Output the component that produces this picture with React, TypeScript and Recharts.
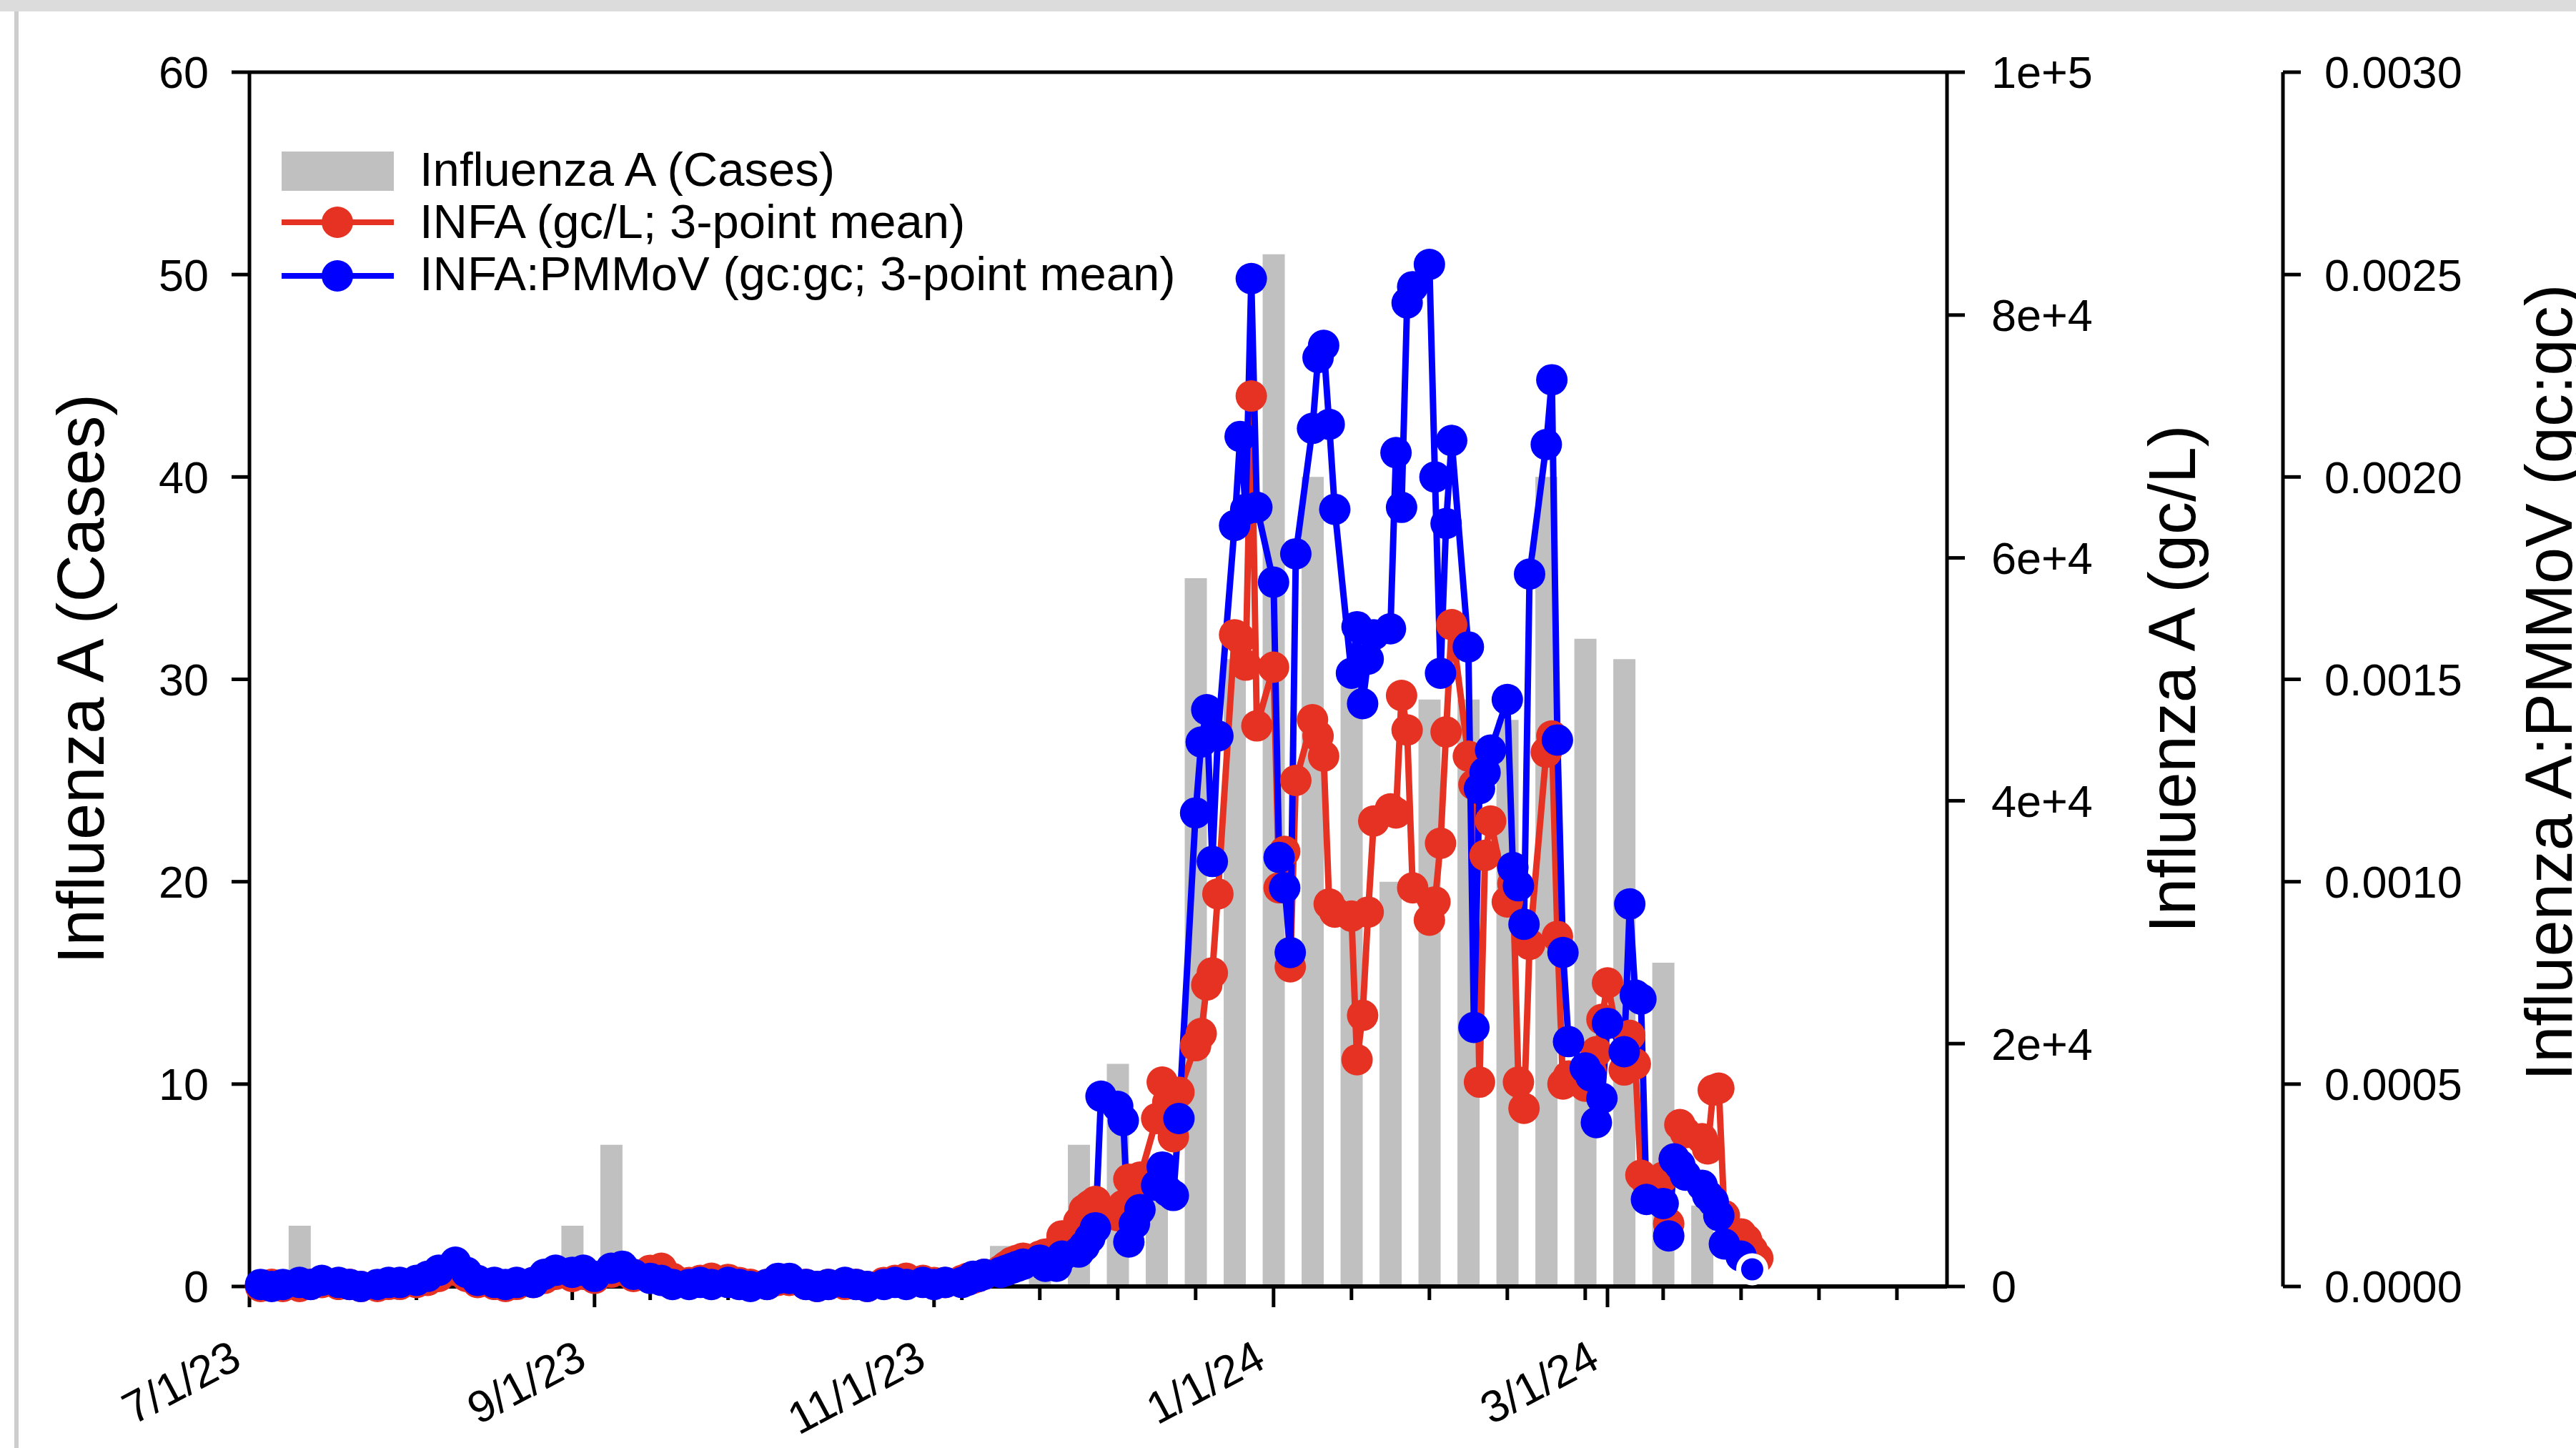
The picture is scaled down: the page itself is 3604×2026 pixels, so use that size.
import React from 'react';
import { ComposedChart, LineChart, Bar, Line, XAxis, YAxis, ReferenceLine } from 'recharts';

const FONT = '"Liberation Sans", Arial, Helvetica, sans-serif';
const W = 3604;
const H = 2026;
const PLOT_LEFT = 349;
const PLOT_RIGHT = 2724;
const PLOT_TOP = 101;
const PLOT_BOTTOM = 1800;
const GCL_AXIS_W = 470;
const RATIO_AXIS_W = W - PLOT_RIGHT - GCL_AXIS_W;

const RED = '#E53222';
const BLUE = '#0000FF';
const GRAY = '#C0C0C0';

// x values are days since 2023-07-01
const xDomain = [0, 305];
const majorTickDays = [0, 62, 123, 184, 244];
const majorTickLabels = ['7/1/23', '9/1/23', '11/1/23', '1/1/24', '3/1/24'];
const minorTickDays = [2, 16, 30, 44, 58, 72, 86, 100, 114, 128, 142, 156, 170, 198, 212, 226, 240, 254, 268, 282, 296];

const casesTicks = [0, 10, 20, 30, 40, 50, 60];
const gclTicks = [0, 20000, 40000, 60000, 80000, 100000];
const ratioTicks = [0, 0.0005, 0.001, 0.0015, 0.002, 0.0025, 0.003];

// weekly reported cases
const caseDays = [9, 16, 23, 30, 37, 44, 51, 58, 65, 72, 79, 86, 93, 100, 107, 114, 121, 128, 135, 142, 149, 156, 163, 170, 177, 184, 191, 198, 205, 212, 219, 226, 233, 240, 247, 254, 261];
const caseCounts = [3, 0, 0, 0, 0, 0, 0, 3, 7, 0, 0, 0, 0, 0, 0, 0, 0, 0, 2, 1, 7, 11, 5, 35, 31, 51, 40, 30, 20, 29, 29, 28, 40, 32, 31, 16, 4];

// wastewater sampling days
const sampleDays = [
  2, 4, 6, 9, 11, 13, 16, 18, 20, 23, 25, 27, 30, 32, 34, 37, 39, 41, 44, 46, 48, 51, 53, 55, 58, 60, 62, 65, 67, 69,
  72, 74, 76, 79, 81, 83, 86, 88, 90, 93, 95, 97, 100, 102, 104, 107, 109, 111, 114, 116, 118, 121, 123, 125,
  128, 129, 130, 131, 132, 135, 136, 137, 138, 139, 142, 143, 144, 145, 146, 149, 150, 151, 152, 153,
  156, 157, 158, 159, 160, 163, 164, 165, 166, 167, 170, 171, 172, 173, 174, 177, 178, 179, 180, 181,
  184, 185, 186, 187, 188, 191, 192, 193, 194, 195, 198, 199, 200, 201, 202, 205, 206, 207, 208, 209,
  212, 213, 214, 215, 216, 219, 220, 221, 222, 223, 226, 227, 228, 229, 230, 233, 234, 235, 236, 237,
  240, 241, 242, 243, 244, 247, 248, 249, 250, 251, 254, 255, 256, 257, 258, 261, 262, 263, 264, 265,
  268, 269, 270, 271,
];

// INFA gc/L (3-point mean)
const infaGcL = [
  0, 170, 0, 0, 170, 330, 170, 170, 0, 0, 170, 170, 330, 500, 830, 1330, 830, 330, 170, 0, 170, 330, 670, 1000, 830, 1000, 670, 1170, 1330, 830,
  1330, 1500, 670, 330, 500, 670, 580, 330, 170, 170, 500, 500, 170, 0, 170, 170, 170, 0, 330, 500, 670, 500, 330, 330,
  500, 670, 670, 830, 1000, 1330, 1670, 2000, 2170, 2330, 2500, 2670, 2500, 3000, 4170, 5330, 6330, 6670, 7000, 6330,
  5830, 6670, 8830, 8330, 9000, 13830, 16830, 15170, 12330, 16000, 19830, 20830, 24830, 25830, 32330, 53670, 53330, 51170, 73330, 46170,
  51000, 32830, 35830, 26330, 41670, 46670, 45330, 43670, 31500, 30830, 30500, 18670, 22330, 30830, 38330, 39330, 39000, 48670, 45830, 32830,
  30170, 31670, 36500, 45670, 54500, 43670, 41330, 16830, 35500, 38330, 31670, 33170, 16830, 14670, 28170, 44000, 45330, 28830, 16670, 17330,
  16500, 17830, 19330, 22000, 25000, 17830, 20670, 18330, 9170, 8670, 9000, 5170, 10500, 13330, 12670, 12170, 11330, 16170, 16330, 5830,
  4330, 3830, 3000, 2330,
];

// INFA:PMMoV gc:gc (3-point mean)
const infaPmmov: (number | null)[] = [
  0.000005, 0, 0.000005, 0.00001, 0.000005, 0.000015, 0.00001, 0.000005, 0, 0.000005, 0.00001, 0.00001, 0.000015, 0.000025, 0.00004,
  0.00006, 0.000035, 0.000015, 0.00001, 0.000005, 0.00001, 0.00001, 0.00003, 0.00004, 0.000035, 0.00004, 0.000025, 0.000045, 0.00005, 0.00003,
  0.00002, 0.000015, 0.000005, 0.000005, 0.00001, 0.000005, 0.00001, 0.000005, 0, 0.000005, 0.00002, 0.00002, 0.000005, 0, 0.000005,
  0.00001, 0.000005, 0, 0.000005, 0.00001, 0.000005, 0.00001, 0.000005, 0.00001,
  0.00001, 0.000015, 0.000025, 0.000025, 0.00003, 0.000035, 0.00004, 0.000045, 0.00005, 0.000055, 0.000065, 0.00005, 0.000053, 0.00005, 0.000075,
  0.000085, 0.0001, 0.00012, 0.000145, 0.00047, 0.000445, 0.00041, 0.00011, 0.000155, 0.00019, 0.00025, 0.000295, 0.000235, 0.000225, 0.000415,
  0.00117, 0.001345, 0.001425, 0.00105, 0.00136, 0.00188, 0.0021, 0.00192, 0.00249, 0.001925, 0.00174, 0.00106, 0.000985, 0.000825, 0.00181,
  0.00212, 0.002295, 0.002325, 0.00213, 0.00192, 0.001515, 0.00163, 0.00144, 0.00155, 0.00161, 0.001625, 0.00206, 0.001925, 0.00243, 0.00247,
  0.002525, 0.002, 0.001515, 0.001885, 0.00209, 0.00158, 0.00064, 0.00123, 0.00127, 0.001325, 0.00145, 0.001035, 0.00099, 0.000895, 0.00176,
  0.00208, 0.00224, 0.00135, 0.000825, 0.000605, 0.00054, 0.00052, 0.000405, 0.000465, 0.00065, 0.00058, 0.000945, 0.00072, 0.00071, 0.000215,
  0.000205, 0.000125, 0.000315, 0.0003, 0.000275, 0.00025, 0.000225, 0.00021, 0.000175, 0.000105, 0.000075, null, 0.0000425, null,
];

const legendLabels = ['Influenza A (Cases)', 'INFA (gc/L; 3-point mean)', 'INFA:PMMoV (gc:gc; 3-point mean)'];
const axisTitles = ['Influenza A (Cases)', 'Influenza A (gc/L)', 'Influenza A:PMMoV (gc:gc)'];

const caseRows = caseDays.map((d, i) => ({ day: d, cases: caseCounts[i] }));
const sampleRows = sampleDays.map((d, i) => ({ day: d, red: infaGcL[i], blue: infaPmmov[i] }));
const lastBlueIndex = (() => {
  let idx = -1;
  infaPmmov.forEach((v, i) => { if (v != null) idx = i; });
  return idx;
})();

const allXTicks = [...majorTickDays, ...minorTickDays].sort((a, b) => a - b);

const fmtSci = (v: number) => {
  if (v === 0) return '0';
  const e = Math.floor(Math.log10(v) + 1e-9);
  const m = Math.round(v / Math.pow(10, e));
  return `${m}e+${e}`;
};

const tickStyle = { fontSize: 63, fill: '#000', fontFamily: FONT };
const axisStroke = { stroke: '#000', strokeWidth: 5 };

const XTick = (props: any) => {
  const { x, y, payload } = props;
  const idx = majorTickDays.indexOf(payload.value);
  const major = idx >= 0;
  const tx = x - 8;
  const ty = y + 112;
  return (
    <g>
      <line x1={x} x2={x} y1={y} y2={y + (major ? 29 : 19)} stroke="#000" strokeWidth={5} />
      {major && (
        <text x={tx} y={ty} textAnchor="end" fontSize={63} fontFamily={FONT} fill="#000" transform={`rotate(-28 ${tx} ${ty})`}>
          {majorTickLabels[idx]}
        </text>
      )}
    </g>
  );
};

const makeDot = (color: string, lastIdx: number) => (props: any) => {
  const { cx, cy, index, value } = props;
  if (cx == null || cy == null || value == null || Number.isNaN(cy)) return <g key={`e-${index}`} />;
  if (index === lastIdx) {
    return <circle key={`d-${index}`} cx={cx} cy={cy} r={19} fill={color} stroke="#fff" strokeWidth={7} />;
  }
  return <circle key={`d-${index}`} cx={cx} cy={cy} r={22} fill={color} stroke="none" />;
};

const redDot = makeDot(RED, -1);
const blueDot = makeDot(BLUE, lastBlueIndex);

export default function App() {
  return (
    <div style={{ position: 'relative', width: W, height: H, background: '#fff', overflow: 'hidden' }}>
      <style>{'html,body{margin:0;padding:0;overflow:hidden;background:#fff}'}</style>
      <div style={{ position: 'absolute', left: 0, top: 0 }}>
        <ComposedChart width={W} height={H} data={caseRows} margin={{ top: PLOT_TOP, right: 0, bottom: 0, left: 0 }}>
          <XAxis
            type="number"
            dataKey="day"
            domain={xDomain}
            ticks={allXTicks}
            interval={0}
            tick={<XTick />}
            tickLine={false}
            tickSize={0}
            tickMargin={0}
            height={H - PLOT_BOTTOM}
            axisLine={{ stroke: '#000', strokeWidth: 6 }}
          />
          <YAxis
            yAxisId="cases"
            orientation="left"
            width={PLOT_LEFT}
            domain={[0, 60]}
            ticks={casesTicks}
            interval={0}
            tickSize={25}
            tickMargin={32}
            tick={tickStyle}
            axisLine={axisStroke}
            tickLine={axisStroke}
          />
          <YAxis
            yAxisId="gcl"
            orientation="right"
            width={GCL_AXIS_W}
            type="number"
            domain={[0, 100000]}
            allowDataOverflow
            ticks={gclTicks}
            interval={0}
            tickFormatter={fmtSci}
            tickSize={25}
            tickMargin={37}
            tick={tickStyle}
            axisLine={axisStroke}
            tickLine={axisStroke}
          />
          <YAxis
            yAxisId="ratio"
            orientation="right"
            width={RATIO_AXIS_W}
            type="number"
            domain={[0, 0.003]}
            allowDataOverflow
            ticks={ratioTicks}
            interval={0}
            tickFormatter={(v: number) => v.toFixed(4)}
            tickSize={25}
            tickMargin={33}
            tick={tickStyle}
            axisLine={axisStroke}
            tickLine={axisStroke}
          />
          <ReferenceLine yAxisId="cases" y={60} stroke="#000" strokeWidth={5} />
          <Bar yAxisId="cases" dataKey="cases" fill={GRAY} barSize={31} isAnimationActive={false} />
        </ComposedChart>
      </div>
      <div style={{ position: 'absolute', left: 0, top: 0 }}>
        <LineChart
          width={W}
          height={H}
          data={sampleRows}
          margin={{ top: PLOT_TOP, right: W - PLOT_RIGHT, bottom: H - PLOT_BOTTOM, left: PLOT_LEFT }}
        >
          <XAxis type="number" dataKey="day" domain={xDomain} hide />
          <YAxis yAxisId="gcl" domain={[0, 100000]} hide />
          <YAxis yAxisId="ratio" domain={[0, 0.003]} hide />
          <Line
            yAxisId="gcl"
            dataKey="red"
            type="linear"
            stroke={RED}
            strokeWidth={9}
            dot={redDot}
            activeDot={false}
            connectNulls
            isAnimationActive={false}
          />
          <Line
            yAxisId="ratio"
            dataKey="blue"
            type="linear"
            stroke={BLUE}
            strokeWidth={9}
            dot={blueDot}
            activeDot={false}
            connectNulls
            isAnimationActive={false}
          />
        </LineChart>
      </div>
      <svg width={W} height={H} style={{ position: 'absolute', left: 0, top: 0, pointerEvents: 'none' }}>
        <rect x={0} y={0} width={W} height={16} fill="#dcdcdc" />
        <rect x={20} y={16} width={6} height={H - 16} fill="#cdcdcd" />
        <rect x={394} y={212} width={157} height={55} fill={GRAY} />
        <text x={587} y={260} fontSize={67} fontFamily={FONT} fill="#000">{legendLabels[0]}</text>
        <line x1={394} x2={551} y1={311} y2={311} stroke={RED} strokeWidth={8} />
        <circle cx={472} cy={311} r={22} fill={RED} />
        <text x={587} y={333} fontSize={67} fontFamily={FONT} fill="#000">{legendLabels[1]}</text>
        <line x1={394} x2={551} y1={386} y2={386} stroke={BLUE} strokeWidth={8} />
        <circle cx={472} cy={386} r={22} fill={BLUE} />
        <text x={587} y={406} fontSize={67} fontFamily={FONT} fill="#000">{legendLabels[2]}</text>
        <text x={145} y={950} fontSize={92} fontFamily={FONT} fill="#000" textAnchor="middle" transform="rotate(-90 145 950)">{axisTitles[0]}</text>
        <text x={3071} y={950} fontSize={92} fontFamily={FONT} fill="#000" textAnchor="middle" transform="rotate(-90 3071 950)">{axisTitles[1]}</text>
        <text x={3598} y={955} fontSize={92} fontFamily={FONT} fill="#000" textAnchor="middle" transform="rotate(-90 3598 955)">{axisTitles[2]}</text>
      </svg>
    </div>
  );
}
